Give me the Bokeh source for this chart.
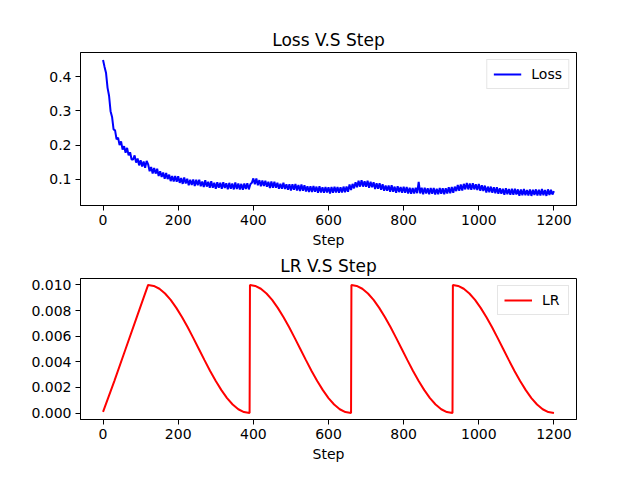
from bokeh.plotting import figure
from bokeh.layouts import column
from bokeh.models import Range1d, FixedTicker, NumeralTickFormatter, Legend, LegendItem
from bokeh.embed import file_html
from bokeh.resources import INLINE

# ---------------- data ----------------
loss_steps = list(range(0, 1201, 4))
loss_values = [
    0.448, 0.428, 0.410, 0.367, 0.344, 0.299, 0.282, 0.246, 0.243, 0.217,
    0.222, 0.200, 0.211, 0.187, 0.197, 0.178, 0.192, 0.170, 0.179, 0.158,
    0.158, 0.170, 0.149, 0.161, 0.141, 0.156, 0.138, 0.152, 0.134, 0.154,
    0.144, 0.124, 0.136, 0.117, 0.133, 0.117, 0.131, 0.110, 0.124, 0.107,
    0.120, 0.102, 0.119, 0.101, 0.114, 0.095, 0.110, 0.094, 0.110, 0.093,
    0.109, 0.090, 0.104, 0.087, 0.106, 0.088, 0.102, 0.083, 0.099, 0.084,
    0.100, 0.081, 0.099, 0.083, 0.099, 0.080, 0.094, 0.078, 0.098, 0.079,
    0.093, 0.076, 0.095, 0.076, 0.090, 0.073, 0.092, 0.076, 0.090, 0.073,
    0.092, 0.075, 0.089, 0.071, 0.090, 0.073, 0.088, 0.071, 0.091, 0.072,
    0.088, 0.071, 0.087, 0.070, 0.088, 0.072, 0.089, 0.071, 0.086, 0.090,
    0.103, 0.086, 0.103, 0.083, 0.098, 0.080, 0.097, 0.081, 0.096, 0.079,
    0.093, 0.075, 0.094, 0.076, 0.093, 0.076, 0.090, 0.073, 0.087, 0.073,
    0.090, 0.072, 0.086, 0.070, 0.086, 0.068, 0.086, 0.070, 0.087, 0.068,
    0.084, 0.066, 0.085, 0.067, 0.083, 0.065, 0.080, 0.063, 0.080, 0.063,
    0.081, 0.064, 0.079, 0.061, 0.080, 0.062, 0.077, 0.061, 0.078, 0.062,
    0.077, 0.059, 0.078, 0.061, 0.079, 0.062, 0.078, 0.061, 0.077, 0.062,
    0.079, 0.063, 0.079, 0.064, 0.085, 0.069, 0.087, 0.074, 0.092, 0.077,
    0.096, 0.079, 0.098, 0.079, 0.095, 0.079, 0.096, 0.076, 0.093, 0.077,
    0.092, 0.072, 0.089, 0.073, 0.089, 0.070, 0.086, 0.067, 0.082, 0.067,
    0.082, 0.064, 0.083, 0.064, 0.079, 0.061, 0.080, 0.063, 0.078, 0.061,
    0.079, 0.061, 0.078, 0.059, 0.076, 0.058, 0.075, 0.059, 0.076, 0.060,
    0.093, 0.059, 0.076, 0.057, 0.076, 0.059, 0.074, 0.057, 0.075, 0.058,
    0.075, 0.056, 0.073, 0.057, 0.075, 0.058, 0.074, 0.057, 0.074, 0.059,
    0.077, 0.060, 0.078, 0.061, 0.079, 0.066, 0.084, 0.067, 0.085, 0.068,
    0.087, 0.071, 0.090, 0.071, 0.088, 0.070, 0.089, 0.071, 0.086, 0.069,
    0.087, 0.067, 0.083, 0.066, 0.082, 0.062, 0.079, 0.063, 0.079, 0.061,
    0.077, 0.060, 0.077, 0.058, 0.074, 0.058, 0.073, 0.055, 0.074, 0.057,
    0.072, 0.055, 0.073, 0.055, 0.073, 0.056, 0.071, 0.052, 0.071, 0.054,
    0.072, 0.054, 0.069, 0.053, 0.071, 0.052, 0.070, 0.055, 0.071, 0.053,
    0.070, 0.053, 0.072, 0.054, 0.069, 0.052, 0.071, 0.055, 0.070, 0.056,
    0.066,
]

lr_steps = [
    0, 30, 60, 90,
    120, 135, 150, 165, 180, 195, 210, 225, 240, 255, 270, 285, 300, 315, 330, 345, 360, 375, 390,
    391, 405, 420, 435, 450, 465, 480, 495, 510, 525, 540, 555, 570, 585, 600, 615, 630, 645, 660,
    661, 675, 690, 705, 720, 735, 750, 765, 780, 795, 810, 825, 840, 855, 870, 885, 900, 915, 930,
    931, 945, 960, 975, 990, 1005, 1020, 1035, 1050, 1065, 1080, 1095, 1110, 1125, 1140, 1155, 1170, 1185, 1200,
]
lr_values = [
    0.0001, 0.0025, 0.0050, 0.0075,
    0.0100, 0.00992, 0.00970, 0.00933, 0.00883, 0.00821, 0.00750, 0.00671, 0.00587, 0.00500,
    0.00413, 0.00329, 0.00250, 0.00179, 0.00117, 0.00067, 0.00030, 0.00008, 0.00000,
    0.0100, 0.00992, 0.00970, 0.00933, 0.00883, 0.00821, 0.00750, 0.00671, 0.00587, 0.00500,
    0.00413, 0.00329, 0.00250, 0.00179, 0.00117, 0.00067, 0.00030, 0.00008, 0.00000,
    0.0100, 0.00992, 0.00970, 0.00933, 0.00883, 0.00821, 0.00750, 0.00671, 0.00587, 0.00500,
    0.00413, 0.00329, 0.00250, 0.00179, 0.00117, 0.00067, 0.00030, 0.00008, 0.00000,
    0.0100, 0.00992, 0.00970, 0.00933, 0.00883, 0.00821, 0.00750, 0.00671, 0.00587, 0.00500,
    0.00413, 0.00329, 0.00250, 0.00179, 0.00117, 0.00067, 0.00030, 0.00008, 0.00000,
]

x_ticks = [0, 200, 400, 600, 800, 1000, 1200]
loss_ticks = [0.1, 0.2, 0.3, 0.4]
lr_ticks = [0.000, 0.002, 0.004, 0.006, 0.008, 0.010]

FONT = "DejaVu Sans"


def style(p, yticks, yfmt):
    p.title.align = "center"
    p.title.text_font = FONT
    p.title.text_font_size = "17px"
    p.title.text_font_style = "normal"
    p.title.text_color = "black"
    p.title.standoff = 6
    p.grid.visible = False
    p.outline_line_color = "black"
    p.outline_line_width = 1
    p.outline_line_alpha = 1
    for ax in (p.xaxis[0], p.yaxis[0]):
        ax.axis_line_color = "black"
        ax.major_tick_line_color = "black"
        ax.major_tick_out = 5
        ax.major_tick_in = 0
        ax.minor_tick_line_color = None
        ax.major_label_text_font = FONT
        ax.major_label_text_font_size = "14px"
        ax.major_label_text_color = "black"
        ax.major_label_standoff = 4
        ax.axis_label_text_font = FONT
        ax.axis_label_text_font_size = "14px"
        ax.axis_label_text_font_style = "normal"
        ax.axis_label_text_color = "black"
        ax.axis_label_standoff = 4
    p.xaxis.ticker = FixedTicker(ticks=x_ticks)
    p.xaxis.axis_label = "Step"
    p.yaxis.ticker = FixedTicker(ticks=yticks)
    p.yaxis.formatter = NumeralTickFormatter(format=yfmt)


def add_legend(p, renderer, label):
    leg = Legend(items=[LegendItem(label=label, renderers=[renderer])],
                 location="top_right")
    leg.label_text_font = FONT
    leg.label_text_font_size = "14px"
    leg.label_text_color = "black"
    leg.glyph_width = 28
    leg.glyph_height = 14
    leg.label_height = 14
    leg.label_standoff = 10
    leg.padding = 6
    leg.margin = 7
    leg.border_line_color = "#cccccc"
    leg.border_line_width = 1
    leg.background_fill_alpha = 0.8
    p.add_layout(leg)


p1 = figure(width=624, height=250, x_range=Range1d(-60, 1260), y_range=Range1d(0.024, 0.470),
            title="Loss V.S Step", output_backend="svg", toolbar_location=None,
            min_border_left=80, min_border_right=48, min_border_top=52, min_border_bottom=40)
r1 = p1.line(loss_steps, loss_values, line_color="#0000ff", line_width=2)
style(p1, loss_ticks, "0.0")
add_legend(p1, r1, "Loss")

p2 = figure(width=624, height=214, x_range=Range1d(-60, 1260), y_range=Range1d(-0.0005, 0.0105),
            title="LR V.S Step", output_backend="svg", toolbar_location=None,
            min_border_left=80, min_border_right=48, min_border_top=26, min_border_bottom=40)
r2 = p2.line(lr_steps, lr_values, line_color="#ff0000", line_width=2)
style(p2, lr_ticks, "0.000")
add_legend(p2, r2, "LR")

layout = column(p1, p2, spacing=0)
open("out.html", "w").write(file_html(layout, INLINE))
